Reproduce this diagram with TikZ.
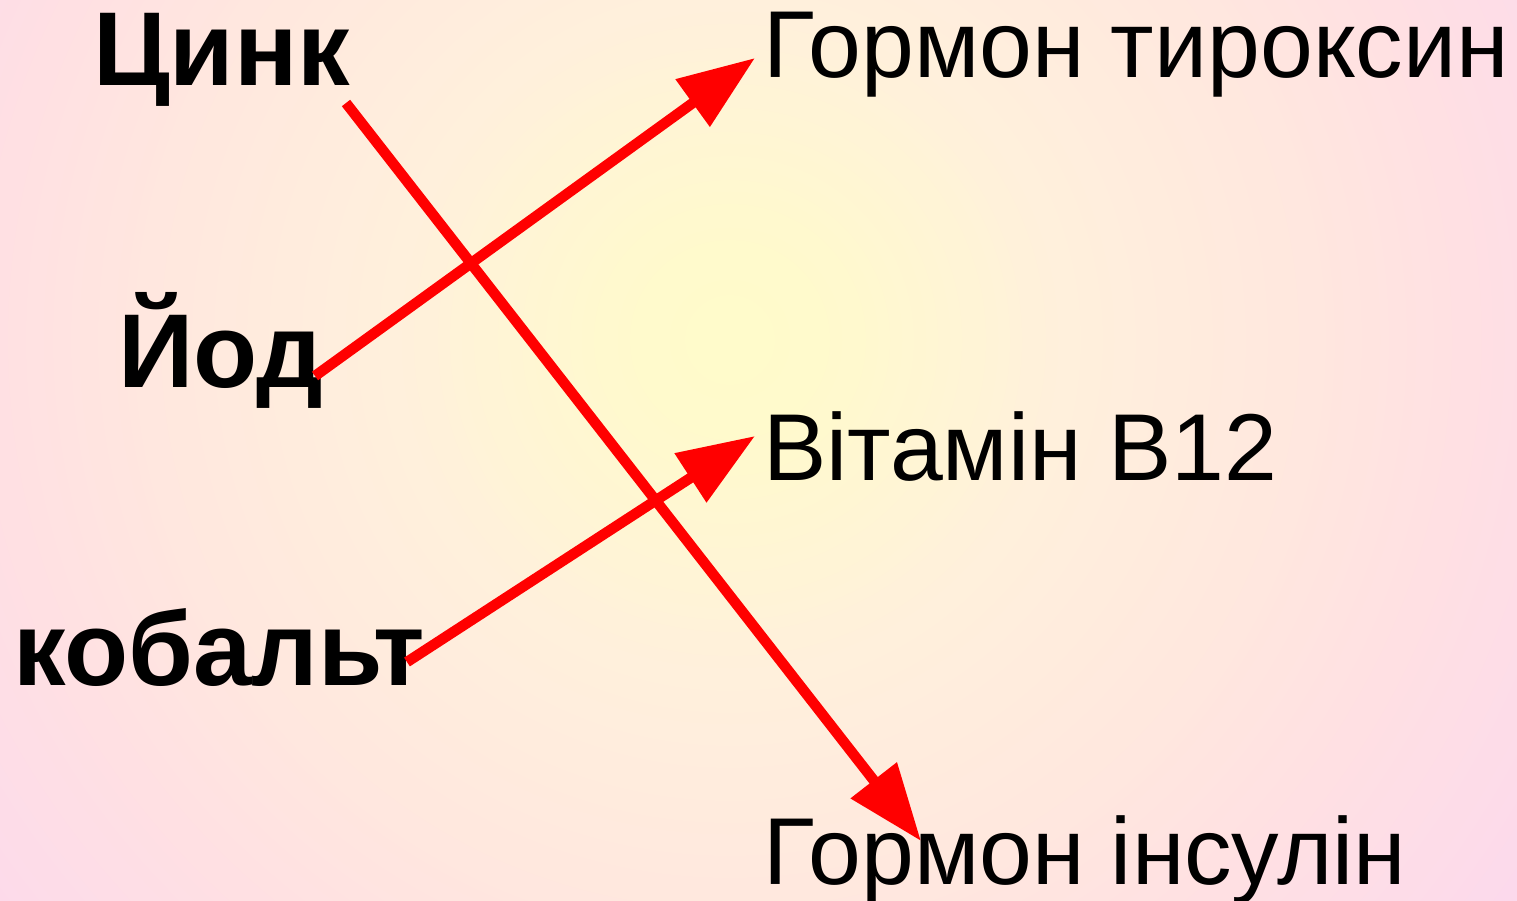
\documentclass[tikz,border=0pt]{standalone}
\usepackage{fontspec}
\setmainfont{Liberation Sans}
\usetikzlibrary{arrows.meta}
\definecolor{bgA}{HTML}{FFFBCB}
\definecolor{bgB}{HTML}{FFFACC}
\definecolor{bgC}{HTML}{FFF0DC}
\definecolor{bgD}{HTML}{FFE8DE}
\definecolor{bgE}{HTML}{FFE0E3}
\definecolor{bgF}{HTML}{FCD9EC}
\tikzset{
  elem/.style={anchor=base west, inner sep=0pt, font=\fontsize{105}{105}\selectfont\bfseries},
  target/.style={anchor=base west, inner sep=0pt, font=\fontsize{95}{95}\selectfont},
  link/.style={draw=red, line width=10.5pt, -{Triangle[length=77pt,width=56pt]}, red}
}
\begin{document}
\begin{tikzpicture}[x=1pt,y=-1pt]
\useasboundingbox (0,0) rectangle (1517,901);
\begin{scope}
\clip (0,0) rectangle (1517,901);
\fill[bgF] (0,0) rectangle (1517,901);
\foreach \ra/\rb/\ca/\cb in {740/970/bgE/bgF, 560/740/bgD/bgE, 340/560/bgC/bgD, 100/340/bgB/bgC, 0/100/bgA/bgB} {
  \foreach \t in {0,...,19} {
    \pgfmathsetmacro\rr{\rb-(\rb-\ra)*\t/20}
    \pgfmathsetmacro\pp{100*\t/20}
    \fill[\ca!\pp!\cb] (730,340) circle[radius=\rr];
  }
}
\end{scope}
\node[elem] (zinc) at (93,86) {Цинк};
\node[elem] (iod) at (118,387) {Йод};
\node[elem] (cob) at (13,685) {кобальт};
\node[target] (tyr) at (763,78) {Гормон тироксин};
\node[target] (vit) at (763,480) {Вітамін В12};
\node[target] (ins) at (763,884) {Гормон інсулін};
\coordinate (zs) at (346,103);
\coordinate (zt) at (921,841);
\coordinate (is) at (315,376);
\coordinate (it) at (755,58);
\coordinate (cs) at (407,662);
\coordinate (ct) at (755,436);
\draw[link] (zs) -- (zt);
\draw[link] (is) -- (it);
\draw[link] (cs) -- (ct);
\end{tikzpicture}
\end{document}
